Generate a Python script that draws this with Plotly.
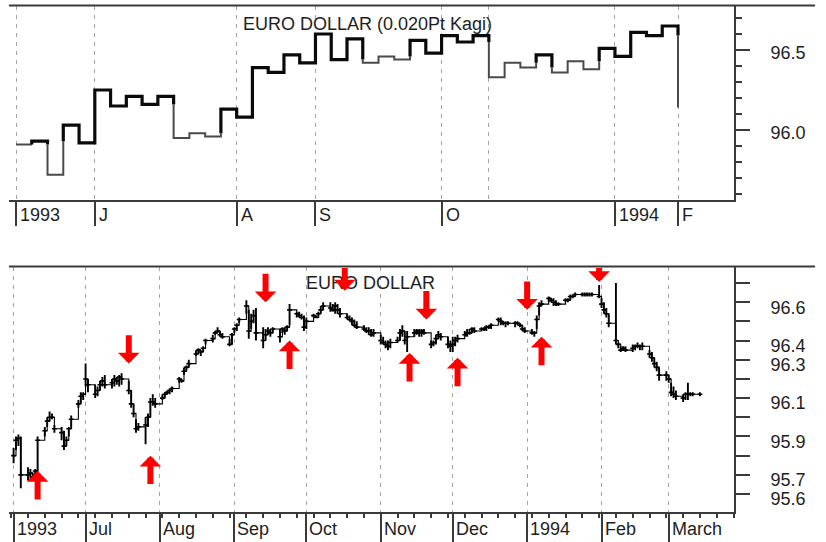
import pandas as pd
import plotly.graph_objects as go

# ---- top panel: Kagi chart (0.020 point reversal) ----
# level of each horizontal step, the last value is where the final line ends
kagi_levels = [95.91, 95.93, 95.72, 96.03, 95.92, 96.25, 96.15, 96.21, 96.16, 96.21,
               95.95, 95.98, 95.96, 96.13, 96.08, 96.39, 96.36, 96.47, 96.42, 96.60,
               96.44, 96.57, 96.42, 96.46, 96.44, 96.56, 96.48, 96.59, 96.55, 96.59,
               96.33, 96.42, 96.39, 96.47, 96.36, 96.43, 96.38, 96.51, 96.46, 96.61,
               96.59, 96.65, 96.14]
kagi_label_pos = [0, 5, 14, 19, 27, 38, 42]
kagi_labels = ["1993", "J", "A", "S", "O", "1994", "F"]
kagi_extra_grid = [30]

# ---- bottom panel: daily bars (high, low, close) ----
jun93 = [(95.84, 95.76, 95.80), (95.90, 95.83, 95.88), (95.91, 95.85, 95.89), (95.90, 95.63, 95.70),
         (95.74, 95.67, 95.70), (95.73, 95.68, 95.71), (95.71, 95.67, 95.69), (95.73, 95.68, 95.72),
         (95.90, 95.71, 95.88), (95.95, 95.90, 95.93), (96.00, 95.95, 95.98), (96.03, 95.98, 96.00),
         (96.02, 95.99, 96.00), (95.96, 95.92, 95.94), (95.95, 95.88, 95.92), (95.93, 95.83, 95.85),
         (95.90, 95.85, 95.88), (95.95, 95.90, 95.94), (96.01, 95.94, 95.99), (96.09, 96.05, 96.07),
         (96.13, 96.07, 96.11), (96.13, 96.09, 96.12)]
jul93 = [(96.28, 96.16, 96.20), (96.20, 96.13, 96.17), (96.17, 96.10, 96.12), (96.16, 96.11, 96.14),
         (96.19, 96.14, 96.17), (96.21, 96.16, 96.19), (96.22, 96.15, 96.17), (96.20, 96.15, 96.18),
         (96.22, 96.16, 96.20), (96.21, 96.17, 96.19), (96.22, 96.16, 96.21), (96.23, 96.17, 96.20),
         (96.19, 96.12, 96.14), (96.14, 96.05, 96.07), (96.07, 96.00, 96.02), (95.99, 95.92, 95.94),
         (95.97, 95.93, 95.95), (96.00, 95.86, 95.96), (96.02, 95.95, 96.00), (96.10, 96.00, 96.08),
         (96.12, 96.06, 96.08), (96.10, 96.05, 96.07)]
aug93 = [(96.12, 96.09, 96.10), (96.13, 96.10, 96.12), (96.14, 96.12, 96.13), (96.15, 96.12, 96.14),
         (96.16, 96.13, 96.15), (96.21, 96.18, 96.20), (96.20, 96.18, 96.19), (96.26, 96.22, 96.24),
         (96.27, 96.24, 96.26), (96.30, 96.26, 96.28), (96.35, 96.32, 96.33), (96.36, 96.33, 96.35),
         (96.35, 96.32, 96.34), (96.37, 96.34, 96.36), (96.41, 96.38, 96.40), (96.43, 96.39, 96.41),
         (96.45, 96.43, 96.44), (96.47, 96.44, 96.45), (96.45, 96.42, 96.43), (96.44, 96.41, 96.42),
         (96.41, 96.37, 96.38), (96.44, 96.38, 96.43)]
sep93 = [(96.47, 96.44, 96.46), (96.49, 96.45, 96.48), (96.52, 96.49, 96.51), (96.61, 96.54, 96.58),
         (96.56, 96.41, 96.45), (96.54, 96.46, 96.50), (96.56, 96.49, 96.53), (96.57, 96.40, 96.44),
         (96.47, 96.36, 96.40), (96.46, 96.40, 96.43), (96.47, 96.43, 96.45), (96.46, 96.42, 96.44),
         (96.47, 96.44, 96.46), (96.46, 96.39, 96.42), (96.47, 96.44, 96.46), (96.47, 96.43, 96.45),
         (96.48, 96.45, 96.47), (96.59, 96.48, 96.56), (96.55, 96.52, 96.54), (96.55, 96.52, 96.53),
         (96.54, 96.51, 96.52), (96.53, 96.45, 96.47)]
oct93 = [(96.52, 96.46, 96.50), (96.54, 96.52, 96.53), (96.53, 96.52, 96.52), (96.55, 96.52, 96.54),
         (96.58, 96.54, 96.56), (96.60, 96.56, 96.58), (96.60, 96.55, 96.57), (96.59, 96.55, 96.56),
         (96.60, 96.54, 96.58), (96.59, 96.54, 96.56), (96.57, 96.52, 96.54), (96.54, 96.51, 96.52),
         (96.53, 96.50, 96.51), (96.52, 96.48, 96.50), (96.51, 96.47, 96.48), (96.50, 96.46, 96.47),
         (96.48, 96.45, 96.46), (96.47, 96.44, 96.45), (96.47, 96.43, 96.45), (96.46, 96.42, 96.43),
         (96.46, 96.42, 96.44)]
nov93 = [(96.43, 96.38, 96.40), (96.42, 96.38, 96.39), (96.40, 96.36, 96.38), (96.40, 96.35, 96.37),
         (96.41, 96.36, 96.39), (96.42, 96.39, 96.40), (96.46, 96.40, 96.44), (96.48, 96.42, 96.45),
         (96.45, 96.38, 96.40), (96.45, 96.34, 96.42), (96.46, 96.42, 96.44), (96.46, 96.43, 96.45),
         (96.46, 96.42, 96.44), (96.46, 96.42, 96.45), (96.46, 96.43, 96.44), (96.40, 96.36, 96.38),
         (96.40, 96.37, 96.39), (96.43, 96.38, 96.41), (96.45, 96.41, 96.43), (96.44, 96.40, 96.42),
         (96.42, 96.36, 96.38), (96.40, 96.34, 96.37)]
dec93 = [(96.42, 96.34, 96.38), (96.42, 96.37, 96.40), (96.43, 96.39, 96.41), (96.45, 96.42, 96.43),
         (96.46, 96.42, 96.44), (96.46, 96.43, 96.44), (96.47, 96.44, 96.46), (96.47, 96.44, 96.45),
         (96.47, 96.45, 96.46), (96.47, 96.45, 96.46), (96.48, 96.45, 96.47), (96.48, 96.46, 96.47),
         (96.49, 96.46, 96.48), (96.52, 96.50, 96.51), (96.52, 96.48, 96.50), (96.50, 96.48, 96.49),
         (96.50, 96.47, 96.49), (96.50, 96.48, 96.49), (96.50, 96.47, 96.49), (96.50, 96.48, 96.49),
         (96.49, 96.47, 96.48), (96.48, 96.45, 96.46), (96.47, 96.44, 96.45)]
jan94 = [(96.46, 96.43, 96.44), (96.45, 96.42, 96.44), (96.53, 96.46, 96.51), (96.60, 96.53, 96.58),
         (96.61, 96.58, 96.59), (96.63, 96.60, 96.62), (96.62, 96.60, 96.61), (96.62, 96.58, 96.60),
         (96.61, 96.58, 96.59), (96.60, 96.58, 96.59), (96.62, 96.60, 96.61), (96.62, 96.60, 96.61),
         (96.64, 96.61, 96.63), (96.64, 96.62, 96.63), (96.65, 96.63, 96.64), (96.65, 96.63, 96.64),
         (96.65, 96.63, 96.64), (96.65, 96.63, 96.64), (96.65, 96.63, 96.64), (96.65, 96.63, 96.64),
         (96.69, 96.62, 96.63)]
feb94 = [(96.62, 96.57, 96.59), (96.60, 96.54, 96.56), (96.57, 96.52, 96.54), (96.54, 96.47, 96.49),
         (96.70, 96.38, 96.40), (96.39, 96.36, 96.38), (96.37, 96.34, 96.35), (96.37, 96.35, 96.36),
         (96.37, 96.34, 96.35), (96.38, 96.34, 96.36), (96.38, 96.35, 96.37), (96.39, 96.36, 96.37),
         (96.38, 96.35, 96.37), (96.39, 96.35, 96.37), (96.35, 96.31, 96.33), (96.34, 96.29, 96.31),
         (96.31, 96.26, 96.28), (96.29, 96.24, 96.26), (96.26, 96.19, 96.22), (96.24, 96.19, 96.22)]
mar94 = [(96.22, 96.18, 96.20), (96.18, 96.11, 96.13), (96.16, 96.10, 96.12), (96.14, 96.09, 96.11),
         (96.12, 96.08, 96.10), (96.13, 96.09, 96.12), (96.18, 96.09, 96.12), (96.13, 96.11, 96.12),
         (96.13, 96.11, 96.12), (96.13, 96.11, 96.12)]

month_starts = ["1993-06-01", "1993-07-01", "1993-08-01", "1993-09-01", "1993-10-01",
                "1993-11-01", "1993-12-01", "1994-01-01", "1994-02-01", "1994-03-01"]
month_labels = ["1993", "Jul", "Aug", "Sep", "Oct", "Nov", "Dec", "1994", "Feb", "March"]
months = [jun93, jul93, aug93, sep93, oct93, nov93, dec93, jan94, feb94, mar94]

price_ticks = [95.6, 95.7, 95.8, 95.9, 96.0, 96.1, 96.2, 96.3, 96.4, 96.5, 96.6, 96.7]
price_labels = ["95.6", "95.7", "", "95.9", "", "96.1", "", "96.3", "96.4", "", "96.6", ""]

# buy / sell signal arrows (arrow tip date and price)
buy_dates = ["1993-06-11", "1993-07-28", "1993-09-24", "1993-11-13", "1993-12-03", "1994-01-07"]
buy_prices = [95.72, 95.80, 96.40, 96.335, 96.31, 96.42]
sell_dates = ["1993-07-19", "1993-09-14", "1993-10-17", "1993-11-20", "1994-01-01", "1994-01-31"]
sell_prices = [96.28, 96.60, 96.66, 96.51, 96.56, 96.705]

W, H = 826, 542
FONT = "Liberation Sans, Arial, sans-serif"
INK = "#1e1e1e"
FRAME = "#3a3a3a"
GRID = "#a4a4a4"
X_DOM = [9 / W, 734 / W]
TOP_DOM = [1 - 200 / H, 1 - 5.5 / H]
BOT_DOM = [1 - 511.5 / H, 1 - 266.5 / H]
TOP_RANGE = [95.5625, 96.778]
BOT_RANGE = [95.509, 96.786]


def kagi_runs(levels):
    """Split the kagi path into thick (yang) and thin (yin) runs."""
    edges = []
    thick = False
    hi = lo = levels[0]
    edges.append((0, levels[0], 1, levels[0], thick))
    for k in range(1, len(levels)):
        a, b = levels[k - 1], levels[k]
        if b > a:
            if not thick and b > hi:
                edges.append((k, a, k, hi, False))
                edges.append((k, hi, k, b, True))
                thick = True
            else:
                edges.append((k, a, k, b, thick))
            hi = b
        else:
            if thick and b < lo:
                edges.append((k, a, k, lo, True))
                edges.append((k, lo, k, b, False))
                thick = False
            else:
                edges.append((k, a, k, b, thick))
            lo = b
        if k < len(levels) - 1:
            edges.append((k, b, k + 1, b, thick))
    runs = []
    for x0, y0, x1, y1, t in edges:
        if runs and runs[-1][0] == t:
            runs[-1][1].append(x1)
            runs[-1][2].append(y1)
        else:
            runs.append((t, [x0, x1], [y0, y1]))
    return runs


fig = go.Figure()

for t, xs, ys in kagi_runs(kagi_levels):
    fig.add_trace(go.Scatter(
        x=xs, y=ys, mode="lines", xaxis="x", yaxis="y", showlegend=False,
        line=dict(color="#0a0a0a" if t else "#4a4a4a", width=3.2 if t else 2),
        hoverinfo="skip"))

dates, highs, lows, closes = [], [], [], []
for start, bars in zip(month_starts, months):
    dates += list(pd.bdate_range(start=start, periods=len(bars)))
    highs += [b[0] for b in bars]
    lows += [b[1] for b in bars]
    closes += [b[2] for b in bars]

# thin close-to-close step line so the bars read as one trace, as in the original
fig.add_trace(go.Scatter(
    x=dates, y=closes, mode="lines", xaxis="x2", yaxis="y2", showlegend=False,
    line=dict(color="#000", width=1.1, shape="hv"), hoverinfo="skip"))

fig.add_trace(go.Scatter(
    x=dates, y=closes, mode="markers", xaxis="x2", yaxis="y2", showlegend=False,
    marker=dict(symbol="line-ew", size=3.5, line=dict(width=1.6, color="#000")),
    error_y=dict(type="data", symmetric=False,
                 array=[h - c for h, c in zip(highs, closes)],
                 arrayminus=[c - l for c, l in zip(closes, lows)],
                 width=0, thickness=1.9, color="#000")))

txt = dict(size=18, color=INK)
annotations = [
    dict(text="EURO DOLLAR (0.020Pt Kagi)", x=367 / W, y=1 - 24 / H, xref="paper", yref="paper",
         yanchor="middle", showarrow=False, font=txt),
    dict(text="EURO DOLLAR", x=370 / W, y=1 - 283 / H, xref="paper", yref="paper",
         yanchor="middle", showarrow=False, font=txt),
]
for pos, lab in zip(kagi_label_pos, kagi_labels):
    annotations.append(dict(text=lab, x=pos, xref="x", y=1 - 215 / H, yref="paper",
                            xanchor="left", yanchor="middle", xshift=2, showarrow=False, font=txt))
for d, lab in zip(month_starts, month_labels):
    annotations.append(dict(text=lab, x=d, xref="x2", y=1 - 529 / H, yref="paper",
                            xanchor="left", yanchor="middle", xshift=1, showarrow=False, font=txt))

arrow_len = 0.156  # about 30 px on the lower price scale
for d, p in zip(buy_dates, buy_prices):
    annotations.append(dict(x=d, y=p, xref="x2", yref="y2", ax=d, ay=max(p - arrow_len, BOT_RANGE[0]),
                            axref="x2", ayref="y2", text="", showarrow=True, arrowhead=1,
                            arrowsize=0.6, arrowwidth=6, arrowcolor="#ff0000"))
for d, p in zip(sell_dates, sell_prices):
    annotations.append(dict(x=d, y=p, xref="x2", yref="y2", ax=d, ay=min(p + arrow_len, BOT_RANGE[1]),
                            axref="x2", ayref="y2", text="", showarrow=True, arrowhead=1,
                            arrowsize=0.6, arrowwidth=6, arrowcolor="#ff0000"))

shapes = []
for dom in (TOP_DOM, BOT_DOM):
    shapes.append(dict(type="line", xref="paper", yref="paper", x0=9 / W, x1=815 / W,
                       y0=dom[1], y1=dom[1], line=dict(color=FRAME, width=2)))

fig.update_layout(
    width=W, height=H, autosize=False,
    margin=dict(l=0, r=0, t=0, b=0),
    paper_bgcolor="white", plot_bgcolor="white",
    font=dict(family=FONT, size=18, color=INK),
    showlegend=False,
    annotations=annotations,
    shapes=shapes,
    xaxis=dict(domain=X_DOM, range=[-0.444, 45.553], anchor="y",
               tickmode="array", tickvals=kagi_label_pos, showticklabels=False,
               ticks="outside", ticklen=24, tickwidth=1.5, tickcolor=FRAME,
               showline=True, linecolor=FRAME, linewidth=2,
               showgrid=True, gridcolor=GRID, gridwidth=1.2, griddash="4px,5px",
               minor=dict(tickmode="array", tickvals=kagi_extra_grid, ticks="",
                          showgrid=True, gridcolor=GRID, gridwidth=1.2, griddash="4px,5px"),
               zeroline=False, fixedrange=True),
    yaxis=dict(domain=TOP_DOM, range=TOP_RANGE, anchor="x", side="right",
               tickmode="linear", tick0=96.0, dtick=0.5, tickformat=".1f",
               ticks="outside", ticklen=14, tickwidth=1.5, tickcolor=FRAME,
               ticklabelstandoff=17, ticklabelshift=3,
               minor=dict(dtick=0.1, tick0=96.0, ticks="outside", ticklen=6,
                          tickwidth=1.5, tickcolor=FRAME, showgrid=False),
               showline=True, linecolor=FRAME, linewidth=2,
               showgrid=False, zeroline=False, fixedrange=True),
    xaxis2=dict(domain=X_DOM, range=["1993-05-30 02:00", "1994-03-28 05:00"], anchor="y2",
                type="date", tickmode="array", tickvals=month_starts, showticklabels=False,
                ticks="outside", ticklen=29, tickwidth=1.5, tickcolor=FRAME,
                minor=dict(dtick=7 * 86400000, tick0="1993-06-07", ticks="outside",
                           ticklen=4, tickwidth=1.5, tickcolor=FRAME, showgrid=False),
                showline=True, linecolor=FRAME, linewidth=2,
                showgrid=True, gridcolor=GRID, gridwidth=1.2, griddash="4px,5px",
                zeroline=False, fixedrange=True),
    yaxis2=dict(domain=BOT_DOM, range=BOT_RANGE, anchor="x2", side="right",
                tickmode="array", tickvals=price_ticks, ticktext=price_labels,
                ticks="outside", ticklen=14, tickwidth=1.5, tickcolor=FRAME,
                ticklabelstandoff=17, ticklabelshift=5,
                showline=True, linecolor=FRAME, linewidth=2,
                showgrid=False, zeroline=False, fixedrange=True),
)

# drop the browser's default 8px page margin so the figure sits at (0, 0)
fig.write_html("out.html", config={"displayModeBar": False},
               post_script="document.body.style.margin='0';document.body.style.overflow='hidden';")
